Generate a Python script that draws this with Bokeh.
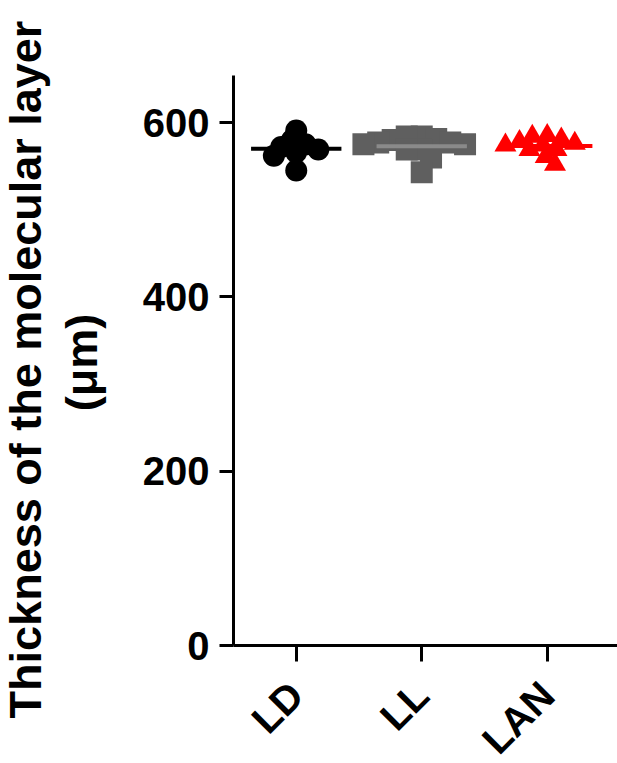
import math
import numpy as np
from bokeh.plotting import figure
from bokeh.models import Range1d, FixedTicker
from bokeh.core.properties import value
from bokeh.embed import file_html
from bokeh.resources import INLINE

# ---- data ----
groups = ["LD", "LL", "LAN"]
ld_values = [591, 580, 575, 572, 569, 566, 562, 545]
ll_values = [584, 584, 581, 580, 577, 577, 575, 575, 569, 569, 560, 543]
lan_values = [585, 584, 581, 578, 576, 574, 574, 569, 569, 561, 552]
y_ticks = [0, 200, 400, 600]
y_label_lines = ["Thickness of the molecular layer", "(\u03bcm)"]

marker_colors = ["#000000", "#5f5f5f", "#ff0000"]
mean_colors = ["#000000", "#8a8a8a", "#ff0000"]
markers = ["circle", "square", "triangle"]

# ---- layout ----
W, H = 617, 763
ML, MT, MB, MR = 233, 75, 118, 0
Y_MAX = 654
X0, X1 = 0.5, 3.56
frame_w = W - ML - MR
frame_h = H - MT - MB
px_x = frame_w / (X1 - X0)
px_y = frame_h / Y_MAX


def swarm(vals, ax, ay):
    """deterministic beeswarm offsets (data x units), elliptical collision in px"""
    placed = []
    offs = []
    for v in vals:
        y = v * px_y
        cands = [0.0]
        for xo, yo in placed:
            dy = (y - yo) / ay
            if abs(dy) < 1:
                dx = ax * math.sqrt(1 - dy * dy)
                cands += [xo + dx, xo - dx]
        cands.sort(key=lambda c: (abs(c), c))
        chosen = 0.0
        for c in cands:
            if all(((c - xo) / ax) ** 2 + ((y - yo) / ay) ** 2 >= 1 - 1e-6 for xo, yo in placed):
                chosen = c
                break
        placed.append((chosen, y))
        offs.append(chosen / px_x)
    return offs


p = figure(width=W, height=H, x_range=Range1d(X0, X1), y_range=Range1d(0, Y_MAX),
           output_backend="svg", toolbar_location=None,
           min_border_left=ML, min_border_top=MT, min_border_bottom=MB, min_border_right=MR)
p.outline_line_color = None
p.xgrid.visible = False
p.ygrid.visible = False
p.background_fill_color = "white"
p.border_fill_color = "white"

all_vals = [ld_values, ll_values, lan_values]
for i, vals in enumerate(all_vals):
    xc = i + 1
    sv = sorted(vals, reverse=True)
    offs = swarm(sv, 15, 10)
    xs = [xc + o for o in offs]
    p.scatter(xs, sv, marker=markers[i], size=22, fill_color=marker_colors[i],
              line_color=marker_colors[i], line_width=0)
    m = float(np.mean(vals))
    p.segment(x0=[xc - 0.36], x1=[xc + 0.36], y0=[m], y1=[m],
              line_color=mean_colors[i], line_width=4)

for ax in (p.xaxis[0], p.yaxis[0]):
    ax.axis_line_width = 3
    ax.major_tick_line_width = 3
    ax.major_tick_in = 0
    ax.minor_tick_line_color = None
    ax.major_label_text_font = "Liberation Sans"
    ax.major_label_text_font_style = "bold"
    ax.major_label_text_font_size = "40px"
    ax.major_label_text_color = "black"
    ax.axis_line_color = "black"
    ax.major_tick_line_color = "black"

p.yaxis.ticker = FixedTicker(ticks=y_ticks)
p.yaxis.major_tick_out = 14
p.yaxis.major_label_standoff = 10

# y-axis title (two lines, rotated), placed left of the tick labels
p.text(x=[X0, X0], y=[Y_MAX / 2, Y_MAX / 2], text=y_label_lines, angle=math.pi / 2,
       x_offset=[-208, -152], y_offset=[9, 2], text_align="center", text_baseline="middle",
       text_font=value("Liberation Sans"), text_font_style="bold",
       text_font_size="45px", text_color="black", level="overlay")

p.xaxis.ticker = FixedTicker(ticks=[1, 2, 3])
p.xaxis.major_label_overrides = {1: "", 2: "", 3: ""}
p.xaxis.major_tick_out = 16
p.xaxis.major_label_standoff = 0

# category labels: rotated 45 degrees, their end just below each tick
p.text(x=[1, 2, 3], y=[0, 0, 0], text=groups, angle=math.pi / 4,
       x_offset=0, y_offset=43, text_align="right", text_baseline="middle",
       text_font=value("Liberation Sans"), text_font_style="bold",
       text_font_size="40px", text_color="black", level="overlay")

open("out.html", "w").write(file_html(p, INLINE))
